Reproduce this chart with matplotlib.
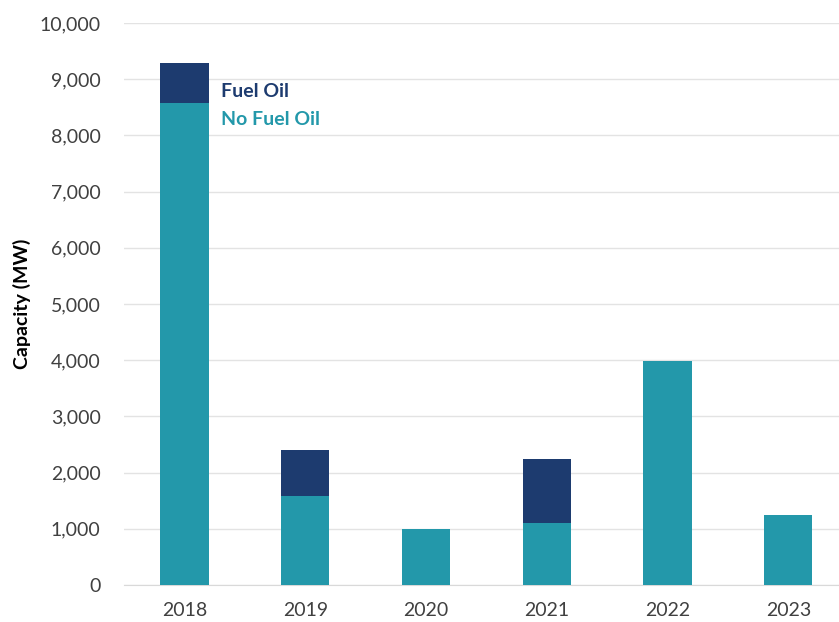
import matplotlib

matplotlib.use("Agg")
import matplotlib.pyplot as plt
from matplotlib.ticker import FuncFormatter

years = ["2018", "2019", "2020", "2021", "2022", "2023"]
no_fuel_oil = [8580, 1580, 1000, 1100, 3990, 1250]
fuel_oil = [710, 820, 0, 1140, 0, 0]

NAVY = "#1d3b6f"
TEAL = "#2398aa"

plt.rcParams["font.family"] = ["Lato", "DejaVu Sans"]

fig = plt.figure(figsize=(8.39, 6.22), dpi=100)
ax = fig.add_axes([0.148, 0.0595, 0.852, 0.9035])

x = range(len(years))
ax.bar(x, no_fuel_oil, width=0.4, color=TEAL, zorder=3)
ax.bar(x, fuel_oil, width=0.4, bottom=no_fuel_oil, color=NAVY, zorder=3)

ax.set_xlim(-0.5, 5.42)
ax.set_ylim(0, 10000)
ax.set_yticks(range(0, 10001, 1000))
ax.yaxis.set_major_formatter(FuncFormatter(lambda v, _: f"{v:,.0f}"))
ax.set_xticks(list(x))
ax.set_xticklabels(years)
ax.tick_params(axis="both", length=0, labelsize=14, colors="#404040")
ax.tick_params(axis="x", pad=12)
ax.tick_params(axis="y", pad=17)
ax.grid(True, axis="y", color="#e3e3e3", lw=1, zorder=0)
for side in ("top", "right", "left"):
    ax.spines[side].set_visible(False)
ax.spines["bottom"].set_color("#d9d9d9")

ax.set_ylabel("Capacity (MW)", fontsize=14, fontweight="bold", labelpad=6)

# inline legend beside the 2018 bar
ax.text(0.3, 8790, "Fuel Oil", color=NAVY, fontsize=14, fontweight="bold",
        va="center", ha="left")
ax.text(0.3, 8290, "No Fuel Oil", color=TEAL, fontsize=14, fontweight="bold",
        va="center", ha="left")

fig.savefig("out.png", dpi=100)
